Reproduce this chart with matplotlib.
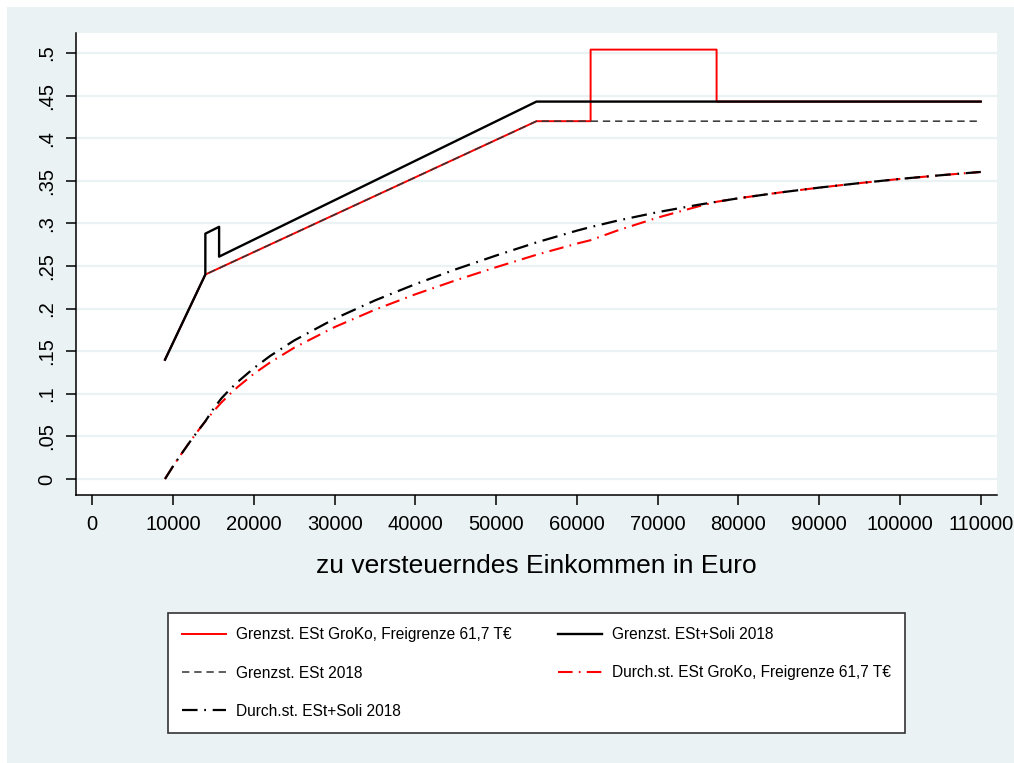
import matplotlib
matplotlib.use("Agg")
import matplotlib.pyplot as plt
from matplotlib.patches import Rectangle

plt.rcParams['font.family'] = ['Liberation Sans', 'DejaVu Sans']

# marginal rates (Grenzsteuersätze)
x_groko = [9000, 14000, 55000, 61700, 61700, 77300, 77300, 110000]
y_groko = [0.14, 0.24, 0.42, 0.42, 0.504, 0.504, 0.443, 0.443]

x_soli = [9000, 13996, 14000, 15700, 15700, 55000, 110000]
y_soli = [0.14, 0.24, 0.288, 0.296, 0.261, 0.443, 0.443]

x_est = [9000, 14000, 55000, 110000]
y_est = [0.14, 0.24, 0.42, 0.42]

# average rates (Durchschnittssteuersätze)
x_avg = [9000, 10000, 11000, 12000, 13000, 14000, 15000, 16000, 17000, 18000,
         20000, 22000, 25000, 30000, 35000, 40000, 45000, 50000, 55000, 60000,
         61700, 65000, 70000, 75000, 77300, 80000, 85000, 90000, 95000, 100000,
         105000, 110000]
avg_soli = [0.0, 0.015, 0.029, 0.0425, 0.0554, 0.0678, 0.0824, 0.0948, 0.1048, 0.1139,
            0.1301, 0.1443, 0.1626, 0.1881, 0.2096, 0.2287, 0.2461, 0.2623, 0.2777, 0.2915,
            0.2957, 0.3032, 0.3132, 0.3218, 0.3254, 0.3295, 0.3361, 0.3420, 0.3473, 0.3522,
            0.3565, 0.3604]
avg_groko = [0.0, 0.015, 0.029, 0.0425, 0.0554, 0.0678, 0.0794, 0.0899, 0.0993, 0.1080,
             0.1234, 0.1367, 0.1541, 0.1783, 0.1987, 0.2168, 0.2332, 0.2486, 0.2632, 0.2763,
             0.2803, 0.2916, 0.3068, 0.3199, 0.3254, 0.3295, 0.3361, 0.3420, 0.3473, 0.3522,
             0.3565, 0.3604]

labels = ["Grenzst. ESt GroKo, Freigrenze 61,7 T€",
          "Grenzst. ESt+Soli 2018",
          "Grenzst. ESt 2018",
          "Durch.st. ESt GroKo, Freigrenze 61,7 T€",
          "Durch.st. ESt+Soli 2018"]

xticks = list(range(0, 110001, 10000))
yticks = [0, 0.05, 0.1, 0.15, 0.2, 0.25, 0.3, 0.35, 0.4, 0.45, 0.5]
ytick_labels = ["0", ".05", ".1", ".15", ".2", ".25", ".3", ".35", ".4", ".45", ".5"]

bg = "#EAF2F3"
fig = plt.figure(figsize=(10.14, 7.63), dpi=100, facecolor="white")
fig.patches.append(Rectangle((7 / 1014, 0), 1 - 7 / 1014, 1 - 7 / 763,
                             transform=fig.transFigure, facecolor=bg,
                             edgecolor="none", zorder=-10))

ax = fig.add_axes([76 / 1014, 1 - 495 / 763, (997 - 76) / 1014, (495 - 33) / 763])
ax.set_facecolor("white")

dashdot = (0, (7.0, 3.0, 0.8, 3.0))
l_groko, = ax.plot(x_groko, y_groko, color="#FF0000", lw=1.4, zorder=3)
l_est, = ax.plot(x_est, y_est, color="#333333", lw=1.1, ls=(0, (4.8, 3.2)), zorder=4)
l_soli, = ax.plot(x_soli, y_soli, color="black", lw=1.7, zorder=5)
l_avg_groko, = ax.plot(x_avg, avg_groko, color="#FF0000", lw=1.5, ls=dashdot, zorder=3)
l_avg_soli, = ax.plot(x_avg, avg_soli, color="black", lw=1.6, ls=dashdot, zorder=4)

ax.set_xlim(-2018, 112020)
ax.set_ylim(-0.0188, 0.5235)
ax.set_xticks(xticks)
ax.set_xticklabels([str(v) for v in xticks])
ax.set_yticks(yticks)
ax.set_yticklabels(ytick_labels, rotation=90, va="center")
ax.yaxis.grid(True, color=bg, lw=1.6)
ax.set_axisbelow(True)

for s in ["top", "right"]:
    ax.spines[s].set_visible(False)
for s in ["left", "bottom"]:
    ax.spines[s].set_color("black")
    ax.spines[s].set_linewidth(1.1)
ax.tick_params(axis="both", length=7.5, width=1.1, color="black",
               labelsize=14.5, pad=7)

ax.set_xlabel("zu versteuerndes Einkommen in Euro", fontsize=19, labelpad=14)

handles = [l_groko, l_est, l_avg_soli, l_soli, l_avg_groko]
leg_labels = [labels[0], labels[2], labels[4], labels[1], labels[3]]
leg = fig.legend(handles, leg_labels, ncol=2, loc="center",
                 bbox_to_anchor=(168 / 1014, 1 - 735 / 763, 737 / 1014, 124 / 763),
                 mode="expand", borderaxespad=0, fontsize=11.2, handlelength=2.8,
                 handletextpad=0.65, labelspacing=1.5, borderpad=0.9,
                 fancybox=False, framealpha=1, edgecolor="#333333")
leg.get_frame().set_linewidth(1.2)

fig.savefig("out.png", dpi=100, facecolor=fig.get_facecolor())
